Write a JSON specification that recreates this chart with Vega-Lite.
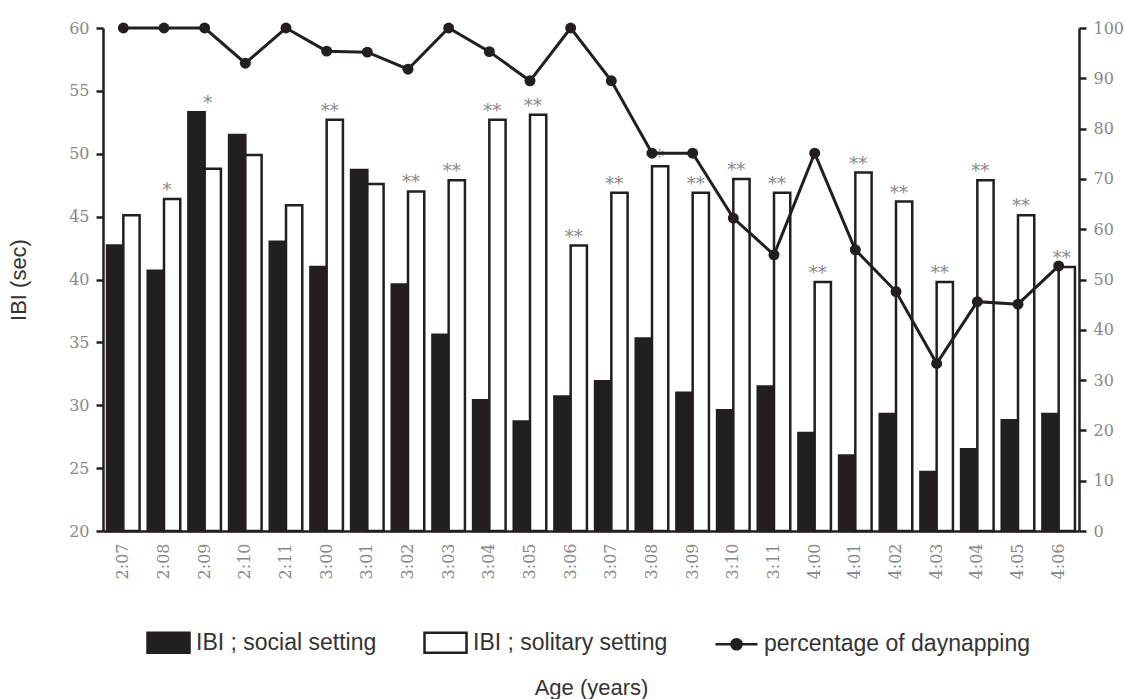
{
  "$schema": "https://vega.github.io/schema/vega-lite/v6.json",
  "width": 976,
  "height": 503,
  "autosize": {"type": "none"},
  "padding": {"left": 103, "top": 28, "right": 46, "bottom": 168},
  "background": "white",
  "config": {"view": {"stroke": null}, "axis": {"grid": false}},
  "data": {
    "values": [
      {"age": "2:07", "social": 42.7, "solitary": 45.1, "pct": 100, "sig": ""},
      {"age": "2:08", "social": 40.7, "solitary": 46.4, "pct": 100, "sig": "*"},
      {"age": "2:09", "social": 53.3, "solitary": 48.8, "pct": 100, "sig": "*"},
      {"age": "2:10", "social": 51.5, "solitary": 49.9, "pct": 93.0, "sig": ""},
      {"age": "2:11", "social": 43.0, "solitary": 45.9, "pct": 100, "sig": ""},
      {"age": "3:00", "social": 41.0, "solitary": 52.7, "pct": 95.4, "sig": "**"},
      {"age": "3:01", "social": 48.7, "solitary": 47.6, "pct": 95.2, "sig": ""},
      {"age": "3:02", "social": 39.6, "solitary": 47.0, "pct": 91.8, "sig": "**"},
      {"age": "3:03", "social": 35.6, "solitary": 47.9, "pct": 100, "sig": "**"},
      {"age": "3:04", "social": 30.4, "solitary": 52.7, "pct": 95.3, "sig": "**"},
      {"age": "3:05", "social": 28.7, "solitary": 53.1, "pct": 89.5, "sig": "**"},
      {"age": "3:06", "social": 30.7, "solitary": 42.7, "pct": 100, "sig": "**"},
      {"age": "3:07", "social": 31.9, "solitary": 46.9, "pct": 89.5, "sig": "**"},
      {"age": "3:08", "social": 35.3, "solitary": 49.0, "pct": 75.1, "sig": "**"},
      {"age": "3:09", "social": 31.0, "solitary": 46.9, "pct": 75.1, "sig": "**"},
      {"age": "3:10", "social": 29.6, "solitary": 48.0, "pct": 62.2, "sig": "**"},
      {"age": "3:11", "social": 31.5, "solitary": 46.9, "pct": 54.9, "sig": "**"},
      {"age": "4:00", "social": 27.8, "solitary": 39.8, "pct": 75.1, "sig": "**"},
      {"age": "4:01", "social": 26.0, "solitary": 48.5, "pct": 55.9, "sig": "**"},
      {"age": "4:02", "social": 29.3, "solitary": 46.2, "pct": 47.6, "sig": "**"},
      {"age": "4:03", "social": 24.7, "solitary": 39.8, "pct": 33.3, "sig": "**"},
      {"age": "4:04", "social": 26.5, "solitary": 47.9, "pct": 45.6, "sig": "**"},
      {"age": "4:05", "social": 28.8, "solitary": 45.1, "pct": 45.1, "sig": "**"},
      {"age": "4:06", "social": 29.3, "solitary": 41.0, "pct": 52.7, "sig": "**"}
    ]
  },
  "encoding": {
    "x": {
      "field": "age",
      "type": "nominal",
      "sort": null,
      "scale": {"paddingInner": 0.2, "paddingOuter": 0.1},
      "axis": {
        "title": "Age (years)",
        "labelAngle": 270,
        "labelFont": "DejaVu Serif",
        "labelFontSize": 16,
        "labelColor": "#888888",
        "labelPadding": 12,
        "ticks": false,
        "tickSize": 0,
        "domainColor": "#231f20",
        "domainWidth": 2.5,
        "titleFont": "Liberation Sans",
        "titleFontSize": 22,
        "titleFontWeight": "normal",
        "titleColor": "#333333",
        "titlePadding": 99
      }
    }
  },
  "layer": [
    {
      "layer": [
        {
          "transform": [{"fold": ["social", "solitary"], "as": ["setting", "ibi"]}],
          "mark": {"type": "bar", "stroke": "#231f20", "strokeWidth": 2.5},
          "encoding": {
            "xOffset": {"field": "setting", "type": "nominal", "sort": ["social", "solitary"]},
            "y": {
              "field": "ibi",
              "type": "quantitative",
              "scale": {"domain": [20, 60], "nice": false, "zero": false},
              "axis": {
                "title": "IBI (sec)",
                "values": [20, 25, 30, 35, 40, 45, 50, 55, 60],
                "labelFont": "DejaVu Serif",
                "labelFontSize": 16,
                "labelColor": "#888888",
                "labelPadding": 7,
                "tickSize": 7,
                "tickWidth": 2.5,
                "tickColor": "#231f20",
                "domainColor": "#231f20",
                "domainWidth": 2.5,
                "titleFont": "Liberation Sans",
                "titleFontSize": 22,
                "titleFontWeight": "normal",
                "titleColor": "#333333",
                "titlePadding": 38
              }
            },
            "y2": {"datum": 20},
            "fill": {
              "field": "setting",
              "type": "nominal",
              "scale": {"domain": ["social", "solitary", "pct"], "range": ["#231f20", "#ffffff", "#231f20"]},
              "legend": {
                "orient": "none",
                "legendX": 43,
                "legendY": 592,
                "direction": "horizontal",
                "title": null,
                "labelFont": "Liberation Sans",
                "labelFontSize": 23,
                "labelColor": "#333333",
                "labelOffset": 5,
                "labelLimit": 500,
                "columnPadding": 42,
                "symbolSize": 1764,
                "symbolStrokeColor": "#231f20",
                "symbolStrokeWidth": 2.5,
                "symbolOpacity": 1,
                "labelExpr": "datum.value === 'social' ? 'IBI ; social setting' : datum.value === 'solitary' ? 'IBI ; solitary setting' : 'percentage of daynapping'",
                "encode": {
                  "symbols": {
                    "update": {
                      "shape": {"signal": "datum.value === 'pct' ? 'M-1,0H1M0.24,0A0.24,0.24,0,1,1,-0.24,0A0.24,0.24,0,1,1,0.24,0Z' : 'M-1,-0.476H1V0.476H-1Z'"},
                      "opacity": {"value": 1}
                    }
                  }
                }
              }
            }
          }
        },
        {
          "transform": [
            {"filter": "datum.sig != ''"},
            {"calculate": "max(datum.social, datum.solitary)", "as": "top"}
          ],
          "mark": {"type": "text", "font": "DejaVu Serif", "fontSize": 18, "color": "#888888", "baseline": "alphabetic", "dy": -3, "dx": 3},
          "encoding": {
            "y": {"field": "top", "type": "quantitative", "scale": {"domain": [20, 60], "nice": false, "zero": false}},
            "text": {"field": "sig"}
          }
        }
      ]
    },
    {
      "layer": [
        {
          "mark": {"type": "line", "color": "#231f20", "strokeWidth": 3},
          "encoding": {
            "y": {
              "field": "pct",
              "type": "quantitative",
              "scale": {"domain": [0, 100], "nice": false},
              "axis": {
                "orient": "right",
                "title": null,
                "values": [0, 10, 20, 30, 40, 50, 60, 70, 80, 90, 100],
                "labelFont": "DejaVu Serif",
                "labelFontSize": 16,
                "labelColor": "#888888",
                "labelPadding": 7,
                "tickSize": 7,
                "tickWidth": 2.5,
                "tickColor": "#231f20",
                "domainColor": "#231f20",
                "domainWidth": 2.5
              }
            }
          }
        },
        {
          "mark": {"type": "point", "filled": true, "size": 120, "opacity": 1},
          "encoding": {
            "y": {"field": "pct", "type": "quantitative", "scale": {"domain": [0, 100], "nice": false}},
            "fill": {"datum": "pct"}
          }
        }
      ]
    }
  ],
  "resolve": {"scale": {"y": "independent"}}
}
